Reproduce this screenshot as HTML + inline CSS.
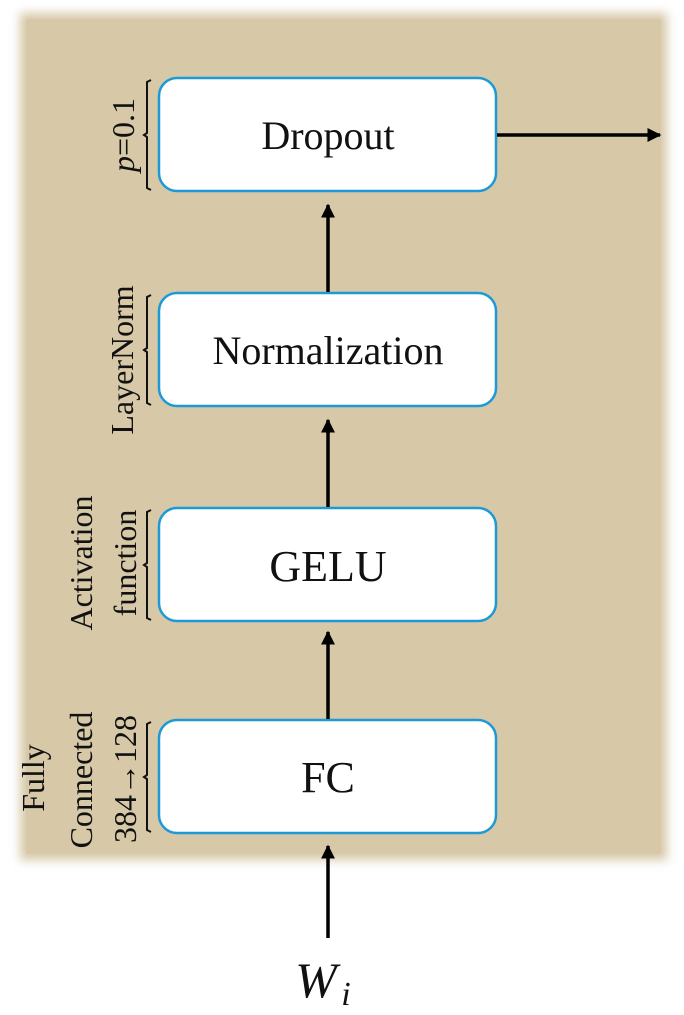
<!DOCTYPE html>
<html><head><meta charset="utf-8"><style>
html,body{margin:0;padding:0;background:#fff;}
svg{display:block;}
text{font-family:"Liberation Serif",serif;fill:#111;}
</style></head><body>
<svg width="684" height="1015" viewBox="0 0 684 1015" xmlns="http://www.w3.org/2000/svg">
<defs>
<filter id="blur" x="-5%" y="-5%" width="110%" height="110%"><feGaussianBlur stdDeviation="5"/></filter>
<marker id="ah" markerWidth="10" markerHeight="10" refX="9" refY="5" orient="auto" markerUnits="userSpaceOnUse">
<path d="M0,0 L10,5 L0,10 Z" fill="#000"/></marker>
<marker id="au" viewBox="0 0 10 10" markerWidth="14" markerHeight="16" refX="9" refY="5" orient="auto" markerUnits="userSpaceOnUse">
<path d="M0,0 L10,5 L0,10 Z" fill="#000"/></marker>
</defs>
<rect x="20" y="13" width="647" height="847" fill="#d7c8a8" filter="url(#blur)"/>
<rect x="26" y="19" width="635" height="835" fill="#d7c8a8"/>

<g fill="#fff" stroke="#1d9ad6" stroke-width="2.5">
<rect x="159" y="78" width="337" height="113" rx="18"/>
<rect x="159" y="293" width="337" height="113" rx="18"/>
<rect x="159" y="508" width="337" height="113" rx="18"/>
<rect x="159" y="720" width="337" height="113" rx="18"/>
</g>

<g font-size="40" text-anchor="middle">
<text x="328" y="149">Dropout</text>
<text x="328" y="364">Normalization</text>
<text x="328" y="581" font-size="44">GELU</text>
<text x="328" y="792" font-size="44">FC</text>
</g>

<g stroke="#000" stroke-width="3.5" fill="none">
<line x1="328" y1="292" x2="328" y2="205" marker-end="url(#au)"/>
<line x1="328" y1="507" x2="328" y2="420" marker-end="url(#au)"/>
<line x1="328" y1="719" x2="328" y2="632" marker-end="url(#au)"/>
<line x1="328" y1="938" x2="328" y2="846" marker-end="url(#au)"/>
<line x1="497" y1="135" x2="660" y2="135" marker-end="url(#au)"/>
</g>

<g stroke="#111" stroke-width="2" fill="none">
<path d="M151,80 L147,82 L147,133 L144,135 L147,137 L147,188 L151,190"/>
<path d="M151,295 L147,297 L147,348 L144,350 L147,352 L147,403 L151,405"/>
<path d="M151,510 L147,512 L147,563 L144,565 L147,567 L147,618 L151,620"/>
<path d="M151,722 L147,724 L147,775 L144,777 L147,779 L147,830 L151,832"/>
</g>

<g font-size="32" text-anchor="middle">
<text transform="translate(134,135) rotate(-90)"><tspan font-style="italic">p</tspan>=0.1</text>
<text transform="translate(133,360) rotate(-90)">LayerNorm</text>
<text transform="translate(92,563) rotate(-90)">Activation</text>
<text transform="translate(136,563) rotate(-90)">function</text>
<text transform="translate(44,778) rotate(-90)">Fully</text>
<text transform="translate(92,780) rotate(-90)">Connected</text>
<text transform="translate(136,779) rotate(-90)">384→128</text>
</g>

<text x="316" y="997" font-size="50" font-style="italic" text-anchor="middle">W</text>
<text x="346" y="1005" font-size="34" font-style="italic" text-anchor="middle">i</text>
</svg>
</body></html>
